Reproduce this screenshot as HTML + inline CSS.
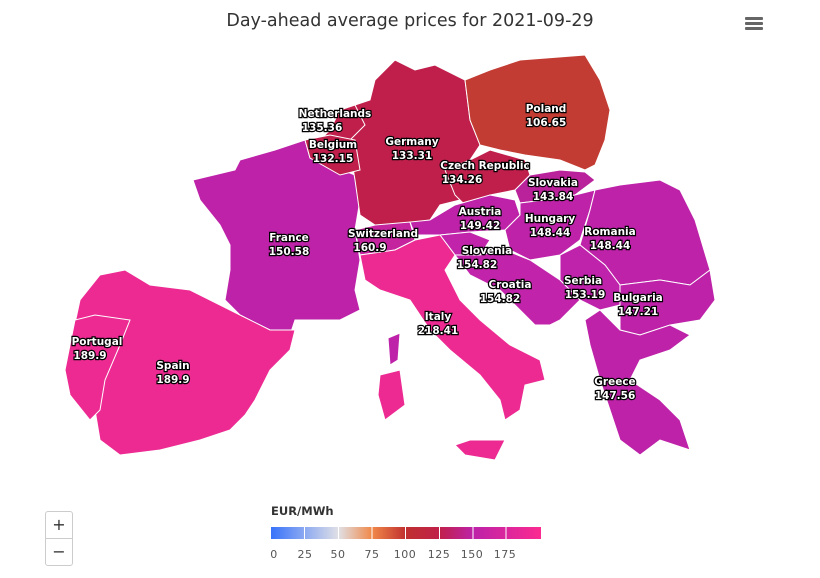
<html><head><style>body{margin:0;background:#fff;width:820px;height:578px;overflow:hidden;position:relative;font-family:"DejaVu Sans",sans-serif}
svg text{font-family:"DejaVu Sans",sans-serif}
.l{font-size:10.5px;font-weight:bold;fill:#fff;stroke:#000;stroke-width:2.4px;paint-order:stroke;text-anchor:middle}
path,polygon{stroke:#fff;stroke-width:1}
.btn{position:absolute;left:45px;width:26px;height:26px;border:1px solid #ccc;background:#fff;font-size:16px;text-align:center;line-height:26px;color:#333}
</style></head><body>
<svg width="820" height="578" style="position:absolute;left:0;top:0">
<text x="410" y="26" text-anchor="middle" font-size="17.5" fill="#333">Day-ahead average prices for 2021-09-29</text>
<g fill="#666"><rect x="745" y="17" width="18" height="3" rx="1"/><rect x="745" y="22" width="18" height="3" rx="1"/><rect x="745" y="27" width="18" height="3" rx="1"/></g>
<polygon fill="#bd22a8" points="193,180 235,170 240,160 275,150 305,140 310,158 330,165 355,175 360,200 355,230 360,260 355,290 360,310 340,320 320,320 295,320 290,335 270,330 240,315 225,300 230,270 230,245 220,225 200,200"/>
<polygon fill="#ec2a92" points="65,370 80,300 100,275 125,270 150,285 190,290 240,315 270,330 295,330 290,350 270,370 255,400 245,415 230,430 200,440 160,450 120,455 100,440 95,410 70,390"/>
<polygon fill="#ec2a92" points="65,370 75,320 95,315 130,320 120,345 105,380 100,410 90,420 70,395"/>
<polygon fill="#c01f4c" points="330,130 340,110 370,100 375,80 395,60 415,70 435,65 465,80 470,120 480,145 470,160 445,175 460,200 440,205 430,220 400,225 375,225 360,215 355,180 350,150"/>
<polygon fill="#c23c33" points="465,80 490,70 520,60 585,55 600,80 610,110 605,140 595,165 585,170 560,160 525,155 500,150 480,145 470,120"/>
<polygon fill="#c01f4c" points="445,170 470,160 490,150 525,160 530,175 515,190 490,195 465,205 455,195"/>
<polygon fill="#c01f4c" points="330,130 340,110 355,105 365,125 350,140 320,140"/>
<polygon fill="#c01f4c" points="305,140 330,135 355,140 360,170 340,175 310,158"/>
<polygon fill="#c4259f" points="355,230 375,225 410,222 415,240 395,250 360,255"/>
<polygon fill="#bd22a8" points="430,220 455,205 490,195 515,200 520,215 505,230 470,232 440,235 415,235 410,222"/>
<polygon fill="#b9229a" points="515,190 530,175 560,170 585,172 595,180 575,195 545,200 520,203"/>
<polygon fill="#bd22a8" points="520,203 545,200 575,195 595,190 590,210 580,240 560,255 530,260 510,250 505,230 520,215"/>
<polygon fill="#bd22a8" points="595,190 620,185 660,180 680,190 695,220 710,270 690,285 660,280 620,285 605,265 580,245 590,210"/>
<polygon fill="#bf23ab" points="560,255 580,245 605,265 620,285 620,305 600,310 580,300 560,280"/>
<polygon fill="#bd22a8" points="620,285 660,280 690,285 710,270 715,300 700,320 670,325 640,335 620,330 620,305"/>
<polygon fill="#bd22a8" points="600,310 620,330 640,335 670,325 690,335 670,350 640,360 630,380 660,400 680,420 690,450 660,440 640,455 620,440 610,410 600,380 590,345 585,320"/>
<polygon fill="#c124aa" points="440,235 470,232 490,240 480,255 455,255"/>
<polygon fill="#c124aa" points="455,255 480,255 505,250 530,260 560,280 580,300 560,320 550,325 535,325 500,290 470,275"/>
<polygon fill="#ec2a92" points="360,255 395,250 415,240 440,235 455,255 445,270 460,300 480,320 510,345 540,360 545,380 525,385 520,410 505,420 500,400 480,375 450,350 430,330 410,300 380,290 365,280"/>
<polygon fill="#ec2a92" points="455,445 470,440 505,440 495,460 465,455"/>
<polygon fill="#ec2a92" points="380,375 400,370 405,405 385,420 378,395"/>
<polygon fill="#bd22a8" points="388,338 400,333 398,360 390,365"/>
<text class="l" x="335" y="117">Netherlands</text><text class="l" x="322" y="131">135.36</text>
<text class="l" x="333" y="148">Belgium</text><text class="l" x="333" y="162">132.15</text>
<text class="l" x="412" y="145">Germany</text><text class="l" x="412" y="159">133.31</text>
<text class="l" x="546" y="112">Poland</text><text class="l" x="546" y="126">106.65</text>
<text class="l" x="485" y="169">Czech Republic</text><text class="l" x="462" y="183">134.26</text>
<text class="l" x="553" y="186">Slovakia</text><text class="l" x="553" y="200">143.84</text>
<text class="l" x="480" y="215">Austria</text><text class="l" x="480" y="229">149.42</text>
<text class="l" x="550" y="222">Hungary</text><text class="l" x="550" y="236">148.44</text>
<text class="l" x="610" y="235">Romania</text><text class="l" x="610" y="249">148.44</text>
<text class="l" x="289" y="241">France</text><text class="l" x="289" y="255">150.58</text>
<text class="l" x="383" y="237">Switzerland</text><text class="l" x="370" y="251">160.9</text>
<text class="l" x="487" y="254">Slovenia</text><text class="l" x="477" y="268">154.82</text>
<text class="l" x="510" y="288">Croatia</text><text class="l" x="500" y="302">154.82</text>
<text class="l" x="583" y="284">Serbia</text><text class="l" x="585" y="298">153.19</text>
<text class="l" x="638" y="301">Bulgaria</text><text class="l" x="638" y="315">147.21</text>
<text class="l" x="438" y="320">Italy</text><text class="l" x="438" y="334">218.41</text>
<text class="l" x="97" y="345">Portugal</text><text class="l" x="90" y="359">189.9</text>
<text class="l" x="173" y="369">Spain</text><text class="l" x="173" y="383">189.9</text>
<text class="l" x="615" y="385">Greece</text><text class="l" x="615" y="399">147.56</text>
<text x="271" y="515" font-size="11.5" font-weight="bold" fill="#333">EUR/MWh</text>
<defs><linearGradient id="g" x1="0" x2="1"><stop offset="0" stop-color="#3873fb"/><stop offset="0.25" stop-color="#e0e0e6"/><stop offset="0.375" stop-color="#f08848"/><stop offset="0.5" stop-color="#c03030"/><stop offset="0.625" stop-color="#c0204a"/><stop offset="0.75" stop-color="#bd22a8"/><stop offset="1" stop-color="#fb2a90"/></linearGradient></defs>
<rect x="271" y="527" width="270" height="12" fill="url(#g)"/>
<g stroke="#fff" stroke-width="1"><line x1="304.5" y1="527" x2="304.5" y2="539"/><line x1="338.5" y1="527" x2="338.5" y2="539"/><line x1="372" y1="527" x2="372" y2="539"/><line x1="405.5" y1="527" x2="405.5" y2="539"/><line x1="439.5" y1="527" x2="439.5" y2="539"/><line x1="473" y1="527" x2="473" y2="539"/><line x1="506" y1="527" x2="506" y2="539"/></g>
<g font-size="11" fill="#555" text-anchor="middle" letter-spacing="0.5"><text x="274" y="558">0</text><text x="305" y="558">25</text><text x="338" y="558">50</text><text x="372" y="558">75</text><text x="405" y="558">100</text><text x="439" y="558">125</text><text x="472" y="558">150</text><text x="505" y="558">175</text></g>
</svg>
<div class="btn" style="top:511px;border-radius:3px 3px 0 0">+</div>
<div class="btn" style="top:538px;border-radius:0 0 3px 3px">−</div>
</body></html>
